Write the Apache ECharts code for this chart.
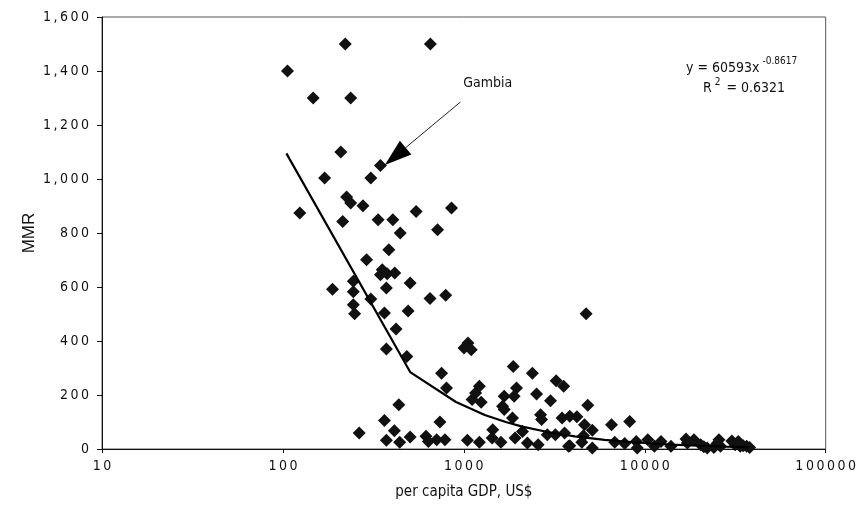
<!DOCTYPE html>
<html>
<head>
<meta charset="utf-8">
<script src="https://cdn.jsdelivr.net/npm/echarts@6/dist/echarts.min.js"></script>
<style>
  html, body { margin: 0; padding: 0; background: #fff; }
  #chart { width: 859px; height: 513px; }
</style>
</head>
<body>
<div id="chart"></div>
<script>
// Per capita GDP (US$) for each country
const gdp = [
  106, 147, 124, 170, 209, 221, 237, 653, 306, 346, 225, 237, 277, 214, 336, 405, 445, 545, 855, 716,
  385, 290, 354, 346, 377, 415, 373, 245, 188, 245, 306, 245, 249, 364, 505, 650, 794, 492, 422, 373, 484,
  1054, 1002, 1099,
  753, 802, 1219, 1161, 1110, 1247,
  1875, 2393, 1955, 1671, 1637, 1671, 1897, 2523, 3013, 3238, 3563,
  1858, 2655, 2690, 3490, 3850, 4216, 4644, 5129, 6548, 8257, 4743, 4842,
  2109, 1445, 1433, 1603, 1920, 2245, 2577, 2891, 3205, 3604, 3793, 4487, 4587, 5129, 3850,
  437, 364, 413, 264, 373, 442, 505, 618, 637, 708, 786, 738, 1046, 1219,
  6827, 7745, 8976, 9090, 10400, 11300, 12300, 13960, 17200, 18700, 20370, 22140, 25100, 26200, 31600, 33700, 36600,
  16900, 25700, 30300, 32900, 21200, 24100, 38000, 35000
];
// Maternal mortality ratio for the same countries
const mmr = [
  1400, 1300, 874, 1004, 1100, 1500, 1300, 1500, 1004, 1050, 933, 911, 901, 843, 849, 849, 800, 880, 893, 812,
  738, 701, 664, 645, 649, 652, 596, 621, 592, 582, 556, 534, 501, 504, 615, 557, 569, 511, 444, 370, 343,
  393, 374, 368,
  281, 226, 232, 207, 183, 173,
  306, 281, 226, 195, 158, 146, 195, 204, 179, 253, 232,
  115, 127, 109, 115, 121, 119, 90, 69, 90, 102, 501, 162,
  65, 71, 41, 25, 41, 22, 16, 53, 53, 59, 10, 25, 49, 4, 12,
  164, 106, 68, 59, 32, 25, 44, 47, 28, 34, 34, 100, 32, 25,
  25, 20, 28, 4, 34, 10, 28, 10, 22, 34, 16, 4, 20, 10, 16, 10, 10,
  37, 34, 30, 28, 8, 6, 6, 12
];

// Fitted power trend line, vertices along the curve
const trendX = [104.5, 505, 905, 1305, 1705, 2105, 2900, 4100, 6000, 9000, 14000, 20000, 28000, 37000];
const trendY = [1095, 285, 174, 126, 100, 83, 63, 47, 34, 24, 16, 12, 9, 7];

// Axis tick values
const yTicks = [0, 200, 400, 600, 800, 1000, 1200, 1400, 1600];
const xTicks = [10, 100, 1000, 10000, 100000];

// Annotation: Gambia
const gambiaLabel = [1355, 1356];
const gambiaArrowFrom = [957, 1285];
const gambiaArrowTo = [366, 1052];

// Trend equation text
const eqMain = 'y = 60593x';
const eqExp = '-0.8617';
const r2Main = 'R';
const r2Exp = '2';
const r2Value = '= 0.6321';

const narrow = "'Liberation Sans Narrow', 'DejaVu Sans Condensed', 'Arial Narrow', sans-serif";
const spaced = s => String(s).split('').join('\u2009');

const measureCtx = document.createElement('canvas').getContext('2d');
function textWidth(text, size) {
  measureCtx.font = size + "px " + narrow;
  return measureCtx.measureText(text).width;
}

const chart = echarts.init(document.getElementById('chart'), null, { renderer: 'canvas' });

const scatterData = gdp.map((g, i) => [g, mmr[i]]);
const trendData = trendX.map((x, i) => [x, trendY[i]]);

chart.setOption({
  backgroundColor: '#fff',
  animation: false,
  grid: {
    left: 102, right: 26, top: 17, bottom: 64,
    show: true, borderColor: '#555', borderWidth: 1, backgroundColor: 'transparent'
  },
  xAxis: {
    type: 'log', logBase: 10, min: xTicks[0], max: xTicks[xTicks.length - 1],
    name: 'per capita GDP, US$',
    nameLocation: 'middle', nameGap: 36,
    nameTextStyle: { fontFamily: narrow, fontSize: 15, color: '#111' },
    axisLine: { show: true, onZero: false, lineStyle: { color: '#111', width: 1 } },
    axisTick: { show: true, inside: false, length: 4, lineStyle: { color: '#111' } },
    axisLabel: {
      margin: 10, fontFamily: narrow, fontSize: 14, color: '#111',
      formatter: v => spaced(Math.round(v))
    },
    splitLine: { show: false },
    minorTick: { show: false }
  },
  yAxis: {
    type: 'value', min: yTicks[0], max: yTicks[yTicks.length - 1], interval: 200,
    name: 'MMR',
    nameLocation: 'middle', nameGap: 64, nameRotate: 90, nameMoveOverlap: false,
    nameTextStyle: { fontFamily: "'Liberation Sans', Arial, sans-serif", fontSize: 17, color: '#111' },
    axisLine: { show: true, lineStyle: { color: '#111', width: 1 } },
    axisTick: { show: true, inside: false, length: 5, lineStyle: { color: '#111' } },
    axisLabel: {
      margin: 13, fontFamily: narrow, fontSize: 14, color: '#111',
      formatter: v => spaced(v.toLocaleString('en-US'))
    },
    splitLine: { show: false }
  },
  series: [
    {
      name: 'MMR',
      type: 'scatter',
      data: scatterData,
      symbol: 'diamond',
      symbolSize: 13,
      itemStyle: { color: '#111', opacity: 1 },
      z: 3
    },
    {
      name: 'Power trend',
      type: 'line',
      data: trendData,
      showSymbol: false,
      symbol: 'none',
      smooth: false,
      lineStyle: { color: '#000', width: 2.2 },
      z: 4
    }
  ]
});

// Overlay annotations positioned from data coordinates
function drawAnnotations() {
  const px = p => chart.convertToPixel({ gridIndex: 0 }, p);
  const from = px(gambiaArrowFrom);
  const tip = px(gambiaArrowTo);
  const lab = px(gambiaLabel);
  const dx = tip[0] - from[0], dy = tip[1] - from[1];
  const len = Math.hypot(dx, dy);
  const ux = dx / len, uy = dy / len;
  const headLen = 27, headHalf = 9;
  const base = [tip[0] - ux * headLen, tip[1] - uy * headLen];
  const nx = -uy, ny = ux;

  // equation block, right part of the plot
  const eqX = 686, eqY = 68, r2X = 703, r2Y = 88;
  const mainSize = 14, supSize = 10;
  const eqW = textWidth(eqMain, mainSize);
  const rW = textWidth(r2Main, mainSize);
  const supW = textWidth(r2Exp, supSize);

  const txt = (x, y, text, size) => ({
    type: 'text', silent: true, z: 10, x, y,
    style: { text, fontFamily: narrow, fontSize: size, fill: '#111', align: 'left', verticalAlign: 'middle' }
  });

  chart.setOption({
    graphic: [
      {
        type: 'line', silent: true, z: 10,
        shape: { x1: from[0], y1: from[1], x2: base[0], y2: base[1] },
        style: { stroke: '#222', lineWidth: 1 }
      },
      {
        type: 'polygon', silent: true, z: 10,
        shape: { points: [tip, [base[0] + nx * headHalf, base[1] + ny * headHalf], [base[0] - nx * headHalf, base[1] - ny * headHalf]] },
        style: { fill: '#000' }
      },
      {
        type: 'text', silent: true, z: 10,
        x: lab[0], y: lab[1],
        style: { text: 'Gambia', fontFamily: narrow, fontSize: 14, fill: '#111', align: 'center', verticalAlign: 'middle' }
      },
      txt(eqX, eqY, eqMain, mainSize),
      txt(eqX + eqW + 3, eqY - 7, eqExp, supSize),
      txt(r2X, r2Y, r2Main, mainSize),
      txt(r2X + rW + 3, r2Y - 6, r2Exp, supSize),
      txt(r2X + rW + 3 + supW + 6, r2Y, r2Value, mainSize)
    ]
  });
}
drawAnnotations();
</script>
</body>
</html>
